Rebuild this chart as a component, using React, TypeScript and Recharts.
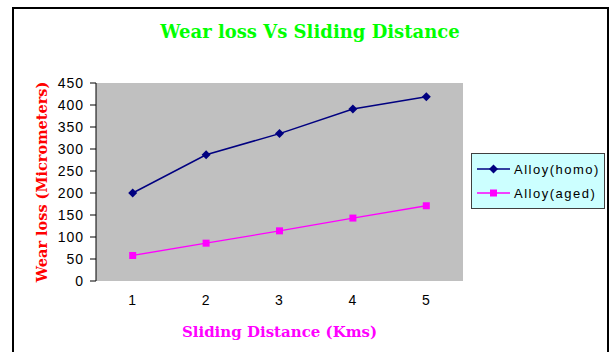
import { LineChart, Line, XAxis, YAxis, CartesianGrid, Label } from 'recharts';

const distances = [1, 2, 3, 4, 5];
const homo = [200, 287, 335, 391, 419];
const aged = [58, 86, 114, 143, 171];
const yTicks = [0, 50, 100, 150, 200, 250, 300, 350, 400, 450];
const boundaryTicks = [0.5, 1.5, 2.5, 3.5, 4.5, 5.5];

const data = distances.map((d, i) => ({ km: d, homo: homo[i], aged: aged[i] }));

const NAVY = '#000080';
const MAGENTA = '#ff00ff';
const sans = 'Liberation Sans, Arial, sans-serif';
const serifBold = 'DejaVu Serif, serif';
const tickFont = { fontFamily: sans, fontSize: 14, fill: '#000', letterSpacing: 1 };

function Diamond(props: any) {
  const { cx, cy } = props;
  if (cx == null || cy == null) return <g key={props.key} />;
  return <path key={props.key} d={`M${cx},${cy - 4.5}L${cx + 4.5},${cy}L${cx},${cy + 4.5}L${cx - 4.5},${cy}Z`} fill={NAVY} />;
}

function Square(props: any) {
  const { cx, cy } = props;
  if (cx == null || cy == null) return <g key={props.key} />;
  return <rect key={props.key} x={cx - 3.5} y={cy - 3.5} width={7} height={7} fill={MAGENTA} />;
}

// legend box drawn by hand so it doesn't steal space from the plot
function LegendBox() {
  const rows = [
    { name: 'Alloy(homo)', color: NAVY, shape: 'diamond' },
    { name: 'Alloy(aged)', color: MAGENTA, shape: 'square' },
  ];
  return (
    <div
      style={{
        position: 'absolute', left: 471, top: 153, width: 132, height: 54,
        background: '#ccffff', border: '1px solid #404040',
      }}
    >
      {rows.map((r, i) => (
        <div key={r.name} style={{ display: 'flex', alignItems: 'center', height: 24, marginTop: i === 0 ? 3 : 0 }}>
          <svg width={42} height={12} style={{ flex: 'none' }}>
            <line x1={5} y1={6} x2={38} y2={6} stroke={r.color} strokeWidth={1.5} />
            {r.shape === 'diamond' ? (
              <path d="M21.5,1.5L26,6L21.5,10.5L17,6Z" fill={r.color} />
            ) : (
              <rect x={18} y={2.5} width={7} height={7} fill={r.color} />
            )}
          </svg>
          <span style={{ fontFamily: sans, fontSize: 13, letterSpacing: 1.5, color: '#000' }}>{r.name}</span>
        </div>
      ))}
    </div>
  );
}

export default function App() {
  return (
    <div style={{ position: 'fixed', left: 0, top: 0, width: 609, height: 352, background: '#fff', overflow: 'hidden' }}>
      <div style={{ position: 'absolute', left: 12, top: 7, width: 593, height: 360, border: '2px solid #000' }} />
      <div
        style={{
          position: 'absolute', left: 0, width: 620, top: 21, textAlign: 'center',
          fontFamily: serifBold, fontWeight: 'bold', fontSize: 18, color: '#00ff00',
        }}
      >
        Wear loss Vs Sliding Distance
      </div>
      <div style={{ position: 'absolute', left: 0, top: 0 }}>
        <LineChart width={609} height={352} data={data} margin={{ top: 83, right: 146, bottom: 41, left: 36 }}>
          <CartesianGrid fill="#c0c0c0" horizontal={false} vertical={false} />
          <XAxis
            xAxisId="bounds"
            type="number"
            dataKey="km"
            domain={[0.5, 5.5]}
            ticks={boundaryTicks}
            tick={false}
            height={0}
            axisLine={{ stroke: '#000' }}
            tickLine={{ stroke: '#000' }}
            tickSize={5}
          />
          <XAxis
            xAxisId="labels"
            type="number"
            dataKey="km"
            domain={[0.5, 5.5]}
            ticks={distances}
            height={30}
            axisLine={false}
            tickLine={false}
            tickMargin={8}
            tick={tickFont}
          >
            <Label
              value="Sliding Distance (Kms)"
              position="bottom"
              offset={15}
              style={{ fontFamily: serifBold, fontWeight: 'bold', fontSize: 15, fill: MAGENTA }}
            />
          </XAxis>
          <XAxis xAxisId="top" orientation="top" type="number" domain={[0.5, 5.5]} height={0} tick={false} tickLine={false} axisLine={{ stroke: '#808080' }} />
          <YAxis
            yAxisId="left"
            type="number"
            domain={[0, 450]}
            ticks={yTicks}
            width={60}
            interval={0}
            axisLine={{ stroke: '#000' }}
            tickLine={{ stroke: '#000' }}
            tickSize={6}
            tickMargin={6}
            tick={tickFont}
          >
            <Label
              value="Wear loss (Micrometers)"
              angle={-90}
              position="insideLeft"
              offset={6}
              style={{ textAnchor: 'middle', fontFamily: serifBold, fontWeight: 'bold', fontSize: 14.5, fill: '#ff0000' }}
            />
          </YAxis>
          <YAxis yAxisId="right" orientation="right" type="number" domain={[0, 450]} width={0} tick={false} tickLine={false} axisLine={{ stroke: '#808080' }} />
          <Line
            xAxisId="labels"
            yAxisId="left"
            dataKey="homo"
            name="Alloy(homo)"
            stroke={NAVY}
            strokeWidth={1.5}
            dot={Diamond}
            activeDot={false}
            isAnimationActive={false}
          />
          <Line
            xAxisId="labels"
            yAxisId="left"
            dataKey="aged"
            name="Alloy(aged)"
            stroke={MAGENTA}
            strokeWidth={1.3}
            dot={Square}
            activeDot={false}
            isAnimationActive={false}
          />
        </LineChart>
      </div>
      <LegendBox />
    </div>
  );
}
